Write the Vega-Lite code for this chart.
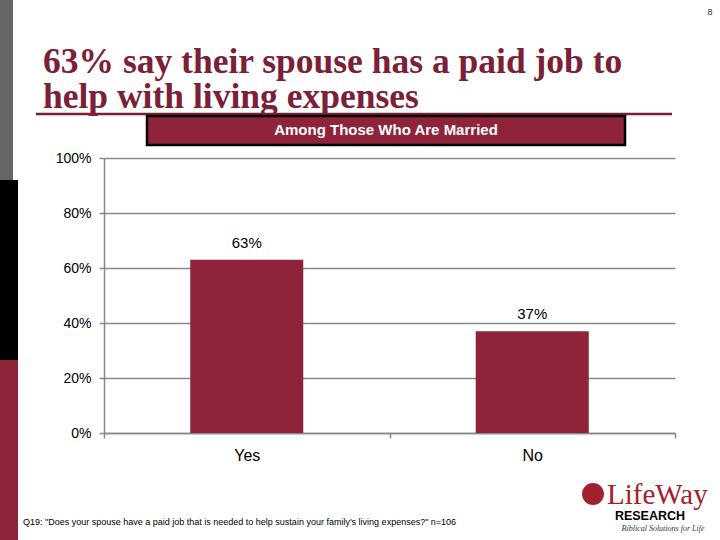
{
  "$schema": "https://vega.github.io/schema/vega-lite/v6.json",
  "width": 571,
  "height": 275,
  "autosize": {"type": "none"},
  "padding": {"left": 104, "top": 158, "right": 45, "bottom": 107},
  "background": "white",
  "config": {"view": {"stroke": null}, "font": "Liberation Sans"},
  "layer": [
    {
      "data": {"values": [{"answer": "Yes", "pct": 0.63}, {"answer": "No", "pct": 0.37}]},
      "layer": [
        {
          "mark": {"type": "bar", "color": "#8E2339", "width": {"band": 0.396}},
          "encoding": {
            "x": {
              "field": "answer", "type": "nominal", "sort": ["Yes", "No"],
              "scale": {"paddingInner": 0, "paddingOuter": 0},
              "axis": {
                "title": null, "labelAngle": 0, "tickBand": "extent",
                "labelFont": "Liberation Sans", "labelFontSize": 16, "labelColor": "#000000",
                "labelPadding": 9, "tickSize": 5, "tickColor": "#888888", "tickWidth": 1.5,
                "domainColor": "#888888", "domainWidth": 1.5, "grid": false
              }
            },
            "y": {
              "field": "pct", "type": "quantitative",
              "scale": {"domain": [0, 1]},
              "axis": {
                "title": null, "format": ".0%", "values": [0, 0.2, 0.4, 0.6, 0.8, 1],
                "labelFont": "Liberation Sans", "labelFontSize": 14, "labelColor": "#000000",
                "labelPadding": 8, "tickSize": 5, "tickColor": "#888888", "tickWidth": 1.5,
                "domainColor": "#888888", "domainWidth": 1.5,
                "grid": true, "gridColor": "#888888", "gridWidth": 1.5
              }
            }
          }
        },
        {
          "mark": {"type": "text", "baseline": "bottom", "dy": -9, "fontSize": 15, "font": "Liberation Sans", "color": "#000000"},
          "encoding": {
            "x": {"field": "answer", "type": "nominal", "sort": ["Yes", "No"]},
            "y": {"field": "pct", "type": "quantitative"},
            "text": {"field": "pct", "type": "quantitative", "format": ".0%"}
          }
        }
      ]
    },
    {
      "data": {"values": [{}]},
      "layer": [
        {"mark": {"type": "rect", "color": "#666666"}, "encoding": {"x": {"value": -104}, "x2": {"value": -91}, "y": {"value": -158}, "y2": {"value": 22}}},
        {"mark": {"type": "rect", "color": "#000000"}, "encoding": {"x": {"value": -104}, "x2": {"value": -86}, "y": {"value": 22}, "y2": {"value": 202}}},
        {"mark": {"type": "rect", "color": "#8E2339"}, "encoding": {"x": {"value": -104}, "x2": {"value": -86}, "y": {"value": 202}, "y2": {"value": 382}}},
        {"mark": {"type": "text", "align": "left", "baseline": "alphabetic", "font": "Liberation Serif", "fontWeight": "bold", "fontSize": 35.5, "lineHeight": 35, "color": "#7B2036"},
         "encoding": {"x": {"value": -61}, "y": {"value": -85}, "text": {"value": ["63% say their spouse has a paid job to", "help with living expenses"]}}},
        {"mark": {"type": "rule", "color": "#7B2036", "strokeWidth": 2.5}, "encoding": {"x": {"value": -68}, "x2": {"value": 568}, "y": {"value": -44}}},
        {"mark": {"type": "rect", "color": "#8E2339", "stroke": "#000000", "strokeWidth": 2.5}, "encoding": {"x": {"value": 43}, "x2": {"value": 521}, "y": {"value": -42}, "y2": {"value": -13}}},
        {"mark": {"type": "text", "align": "center", "baseline": "middle", "font": "Liberation Sans", "fontWeight": "bold", "fontSize": 15, "color": "#FFFFFF"},
         "encoding": {"x": {"value": 282}, "y": {"value": -28}, "text": {"value": "Among Those Who Are Married"}}},
        {"mark": {"type": "text", "align": "center", "baseline": "middle", "font": "Liberation Sans", "fontSize": 9, "color": "#333333"},
         "encoding": {"x": {"value": 606}, "y": {"value": -146}, "text": {"value": "8"}}},
        {"mark": {"type": "text", "align": "left", "baseline": "alphabetic", "font": "Liberation Sans", "fontSize": 9, "color": "#000000"},
         "encoding": {"x": {"value": -81}, "y": {"value": 367}, "text": {"value": "Q19: \"Does your spouse have a paid job that is needed to help sustain your family's living expenses?\" n=106"}}},
        {"mark": {"type": "point", "shape": "circle", "filled": true, "color": "#A3202E", "size": 480, "opacity": 1}, "encoding": {"x": {"value": 489}, "y": {"value": 336}}},
        {"mark": {"type": "text", "align": "left", "baseline": "alphabetic", "font": "Liberation Serif", "fontSize": 29, "color": "#A3202E"},
         "encoding": {"x": {"value": 503}, "y": {"value": 346}, "text": {"value": "LifeWay"}}},
        {"mark": {"type": "text", "align": "center", "baseline": "alphabetic", "font": "Liberation Sans", "fontWeight": "bold", "fontSize": 12.5, "color": "#000000"},
         "encoding": {"x": {"value": 546}, "y": {"value": 362}, "text": {"value": "RESEARCH"}}},
        {"mark": {"type": "text", "align": "center", "baseline": "alphabetic", "font": "Liberation Serif", "fontStyle": "italic", "fontSize": 8, "color": "#333333"},
         "encoding": {"x": {"value": 559}, "y": {"value": 373}, "text": {"value": "Biblical Solutions for Life"}}}
      ]
    }
  ]
}
